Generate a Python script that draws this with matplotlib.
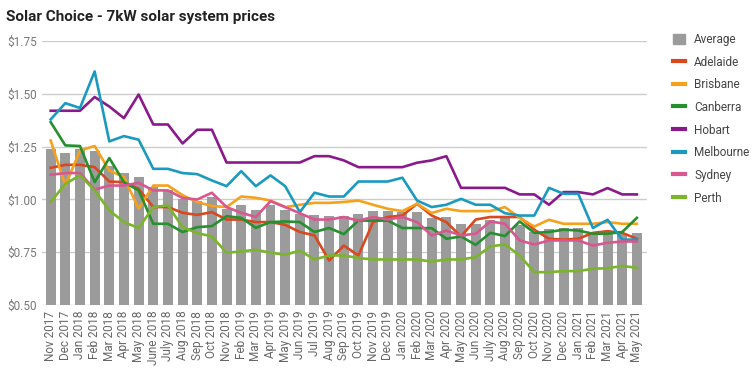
import matplotlib.pyplot as plt
from matplotlib.patches import Patch
from matplotlib.lines import Line2D

plt.rcParams['font.family'] = ['Roboto', 'DejaVu Sans']

months = ['Nov 2017', 'Dec 2017', 'Jan 2018', 'Feb 2018', 'Mar 2018', 'Apr 2018',
          'May 2018', 'June 2018', 'July 2018', 'Aug 2018', 'Sep 2018', 'Oct 2018',
          'Nov 2018', 'Feb 2019', 'Mar 2019', 'Apr 2019', 'May 2019', 'Jun 2019',
          'Jul 2019', 'Aug 2019', 'Sep 2019', 'Oct 2019', 'Nov 2019', 'Dec 2019',
          'Jan 2020', 'Feb 2020', 'Mar 2020', 'Apr 2020', 'May 2020', 'Jun 2020',
          'July 2020', 'Aug 2020', 'Sep 2020', 'Oct 2020', 'Nov 2020', 'Dec 2020',
          'Jan 2021', 'Feb 2021', 'Mar 2021', 'Apr 2021', 'May 2021']

average = [1.24, 1.22, 1.24, 1.23, 1.16, 1.125, 1.105, 1.06, 1.045, 1.00, 0.995,
           1.01, 0.955, 0.975, 0.95, 0.975, 0.95, 0.93, 0.925, 0.92, 0.92,
           0.93, 0.945, 0.945, 0.94, 0.94, 0.91, 0.915, 0.885, 0.885, 0.905,
           0.91, 0.88, 0.845, 0.86, 0.865, 0.865, 0.835, 0.845, 0.835, 0.84]

adelaide = [1.15, 1.164, 1.164, 1.153, 1.085, 1.082, 1.05, 0.964, 0.964, 0.937, 0.927,
            0.94, 0.905, 0.905, 0.893, 0.893, 0.88, 0.846, 0.83, 0.711, 0.782,
            0.735, 0.893, 0.917, 0.924, 0.98, 0.924, 0.893, 0.825, 0.905, 0.917,
            0.917, 0.917, 0.857, 0.814, 0.81, 0.814, 0.842, 0.85, 0.842, 0.814]

brisbane = [1.279, 1.066, 1.232, 1.253, 1.137, 1.106, 0.956, 1.066, 1.066, 1.02, 0.988,
            0.969, 0.964, 1.014, 1.008, 0.995, 0.964, 0.975, 0.984, 0.984, 0.988,
            0.995, 0.975, 0.956, 0.945, 0.98, 0.936, 0.956, 0.945, 0.945, 0.945,
            0.964, 0.913, 0.872, 0.904, 0.885, 0.885, 0.885, 0.893, 0.885, 0.885]

canberra = [1.366, 1.256, 1.253, 1.082, 1.196, 1.082, 1.043, 0.885, 0.885, 0.846, 0.869,
            0.874, 0.921, 0.913, 0.866, 0.893, 0.896, 0.893, 0.846, 0.865, 0.836,
            0.90, 0.90, 0.90, 0.865, 0.865, 0.864, 0.814, 0.825, 0.785, 0.842,
            0.827, 0.896, 0.842, 0.846, 0.857, 0.853, 0.838, 0.838, 0.846, 0.913]

hobart = [1.42, 1.42, 1.42, 1.485, 1.44, 1.385, 1.497, 1.355, 1.355, 1.265, 1.33,
          1.33, 1.175, 1.175, 1.175, 1.175, 1.175, 1.175, 1.205, 1.205, 1.185,
          1.153, 1.153, 1.153, 1.153, 1.174, 1.185, 1.205, 1.055, 1.055, 1.055,
          1.055, 1.024, 1.024, 0.975, 1.035, 1.035, 1.024, 1.054, 1.024, 1.024]

melbourne = [1.379, 1.456, 1.433, 1.606, 1.275, 1.30, 1.283, 1.145, 1.145, 1.125, 1.12,
             1.09, 1.063, 1.134, 1.063, 1.114, 1.063, 0.94, 1.032, 1.014, 1.014,
             1.085, 1.085, 1.085, 1.103, 0.995, 0.964, 0.975, 1.003, 0.975, 0.975,
             0.935, 0.924, 0.924, 1.055, 1.027, 1.027, 0.865, 0.904, 0.81, 0.81]

sydney = [1.117, 1.125, 1.125, 1.047, 1.066, 1.066, 1.079, 1.043, 1.043, 1.007, 1.0,
          1.032, 0.964, 0.937, 0.917, 0.992, 0.964, 0.935, 0.905, 0.905, 0.917,
          0.90, 0.917, 0.905, 0.917, 0.893, 0.83, 0.853, 0.83, 0.838, 0.896,
          0.885, 0.806, 0.787, 0.806, 0.806, 0.806, 0.782, 0.795, 0.801, 0.801]

perth = [0.988, 1.074, 1.114, 1.043, 0.948, 0.893, 0.865, 0.964, 0.972, 0.869, 0.841,
         0.825, 0.748, 0.754, 0.762, 0.748, 0.738, 0.758, 0.716, 0.735, 0.735,
         0.723, 0.716, 0.716, 0.716, 0.716, 0.706, 0.716, 0.716, 0.727, 0.778,
         0.787, 0.735, 0.656, 0.656, 0.661, 0.661, 0.672, 0.675, 0.685, 0.677]

cities = ['Adelaide', 'Brisbane', 'Canberra', 'Hobart', 'Melbourne', 'Sydney', 'Perth']
series = [adelaide, brisbane, canberra, hobart, melbourne, sydney, perth]
colors = ['#d9481e', '#f5a11c', '#26902f', '#8a1a8c', '#1b9ac0', '#d9578e', '#7ab52b']
bar_color = '#9b9b9b'

fig = plt.figure(figsize=(7.56, 3.73), dpi=100)
ax = fig.add_axes([0.056, 0.182, 0.80, 0.708])

x = list(range(len(months)))
ax.bar(x, average, width=0.68, color=bar_color, zorder=2)
for vals, c in zip(series, colors):
    ax.plot(x, vals, color=c, linewidth=1.9, zorder=3)

ax.set_xlim(-0.57, 40.7)
ax.set_ylim(0.5, 1.75)
yticks = [0.5, 0.75, 1.0, 1.25, 1.5, 1.75]
ax.set_yticks(yticks)
ax.set_yticklabels(['$%.2f' % v for v in yticks], color='#777777', fontsize=8.5)
ax.set_xticks(x)
ax.set_xticklabels(months, rotation=90, color='#666666', fontsize=8.5)
ax.tick_params(length=0, pad=4)
ax.grid(axis='y', color='#cccccc', linewidth=1, zorder=0)
for s in ax.spines.values():
    s.set_visible(False)

fig.text(0.008, 0.955, 'Solar Choice - 7kW solar system prices',
         fontsize=11, fontweight='bold', color='#222222', va='center')

handles = [Patch(color=bar_color, label='Average')]
for name, c in zip(cities, colors):
    handles.append(Line2D([], [], color=c, linewidth=3, label=name))
fig.legend(handles=handles, loc='upper left', bbox_to_anchor=(0.876, 0.94),
           frameon=False, fontsize=8.5, labelcolor='#444444', handlelength=1.0,
           handleheight=1.0, labelspacing=0.82, handletextpad=0.8)

fig.savefig('out.png', dpi=100)
